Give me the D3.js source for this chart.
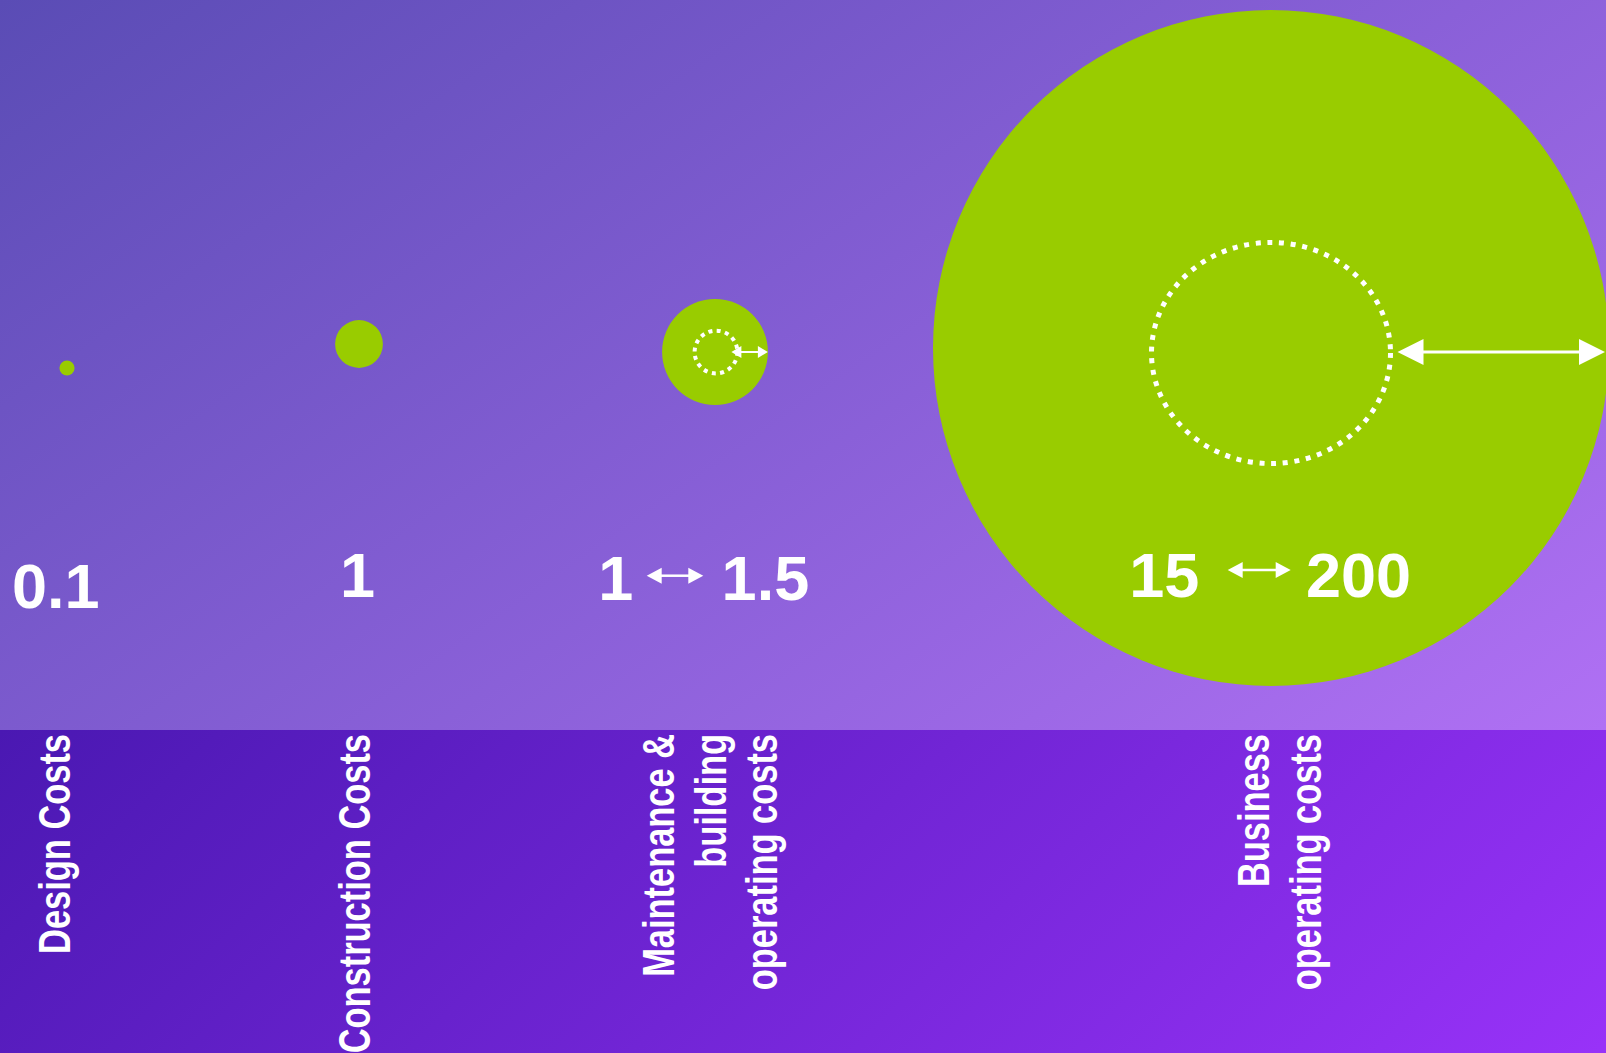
<!DOCTYPE html>
<html>
<head>
<meta charset="utf-8">
<script src="https://cdn.jsdelivr.net/npm/d3@7"></script>
<style>
html, body { margin: 0; padding: 0; overflow: hidden; background: #fff; }
svg { display: block; }
</style>
</head>
<body>
<svg width="1606" height="1053"></svg>
<script>
// data
var categories = ['design', 'construction', 'maintenance', 'business'];
var categoryLines = [
    ['Design Costs'],
    ['Construction Costs'],
    ['Maintenance &', 'building', 'operating costs'],
    ['Business', 'operating costs']
];
var lowValues = [null, null, 1, 15];
var highValues = [0.1, 1, 1.5, 200];
// bubble areas as drawn (same units as the values)
var bubbleSize = [0.1, 1, 4.9, 200];
var ringSize = [null, null, 0.8, 25];

var W = 1606, H = 1053, bandY = 730;
var green = '#99cc00';
var font = "'Liberation Sans', Arial, sans-serif";

var svg = d3.select('svg');
var defs = svg.append('defs');

var topGrad = defs.append('linearGradient').attr('id', 'topGrad')
    .attr('gradientUnits', 'userSpaceOnUse')
    .attr('x1', 0).attr('y1', 0).attr('x2', 870).attr('y2', 1243);
topGrad.append('stop').attr('offset', 0).attr('stop-color', '#5a4cb5');
topGrad.append('stop').attr('offset', 1).attr('stop-color', '#b070f4');

var botGrad = defs.append('linearGradient').attr('id', 'botGrad')
    .attr('gradientUnits', 'userSpaceOnUse')
    .attr('x1', 0).attr('y1', bandY).attr('x2', 925).attr('y2', bandY + 966);
botGrad.append('stop').attr('offset', 0).attr('stop-color', '#4a18b2');
botGrad.append('stop').attr('offset', 1).attr('stop-color', '#9832f8');

svg.append('rect').attr('width', W).attr('height', bandY).attr('fill', 'url(#topGrad)');
svg.append('rect').attr('y', bandY).attr('width', W).attr('height', H - bandY).attr('fill', 'url(#botGrad)');

// scales
var x = d3.scaleOrdinal().domain(categories).range([67, 359, 715, 1271]);
var y = d3.scaleOrdinal().domain(categories).range([368, 344, 352, 348]);
var r = d3.scaleSqrt().domain([0, 200]).range([0, 338]);
var labelX = d3.scaleOrdinal().domain(categories).range([70, 370, 674, 1269]);

var rows = categories.map(function(c, i) {
    return {key: c, lines: categoryLines[i], low: lowValues[i], high: highValues[i],
            size: bubbleSize[i], ring: ringSize[i]};
});

function doubleArrow(g, x1, x2, yy, head, half, w) {
    g.append('line')
        .attr('x1', x1 + head - 1).attr('x2', x2 - head + 1)
        .attr('y1', yy).attr('y2', yy)
        .attr('stroke', '#fff').attr('stroke-width', w);
    g.append('path')
        .attr('d', 'M' + x1 + ',' + yy + 'L' + (x1 + head) + ',' + (yy - half) + 'L' + (x1 + head) + ',' + (yy + half) + 'Z')
        .attr('fill', '#fff');
    g.append('path')
        .attr('d', 'M' + x2 + ',' + yy + 'L' + (x2 - head) + ',' + (yy - half) + 'L' + (x2 - head) + ',' + (yy + half) + 'Z')
        .attr('fill', '#fff');
}

// bubbles
svg.selectAll('circle.bubble').data(rows).enter().append('circle')
    .attr('class', 'bubble')
    .attr('cx', function(d) { return x(d.key); })
    .attr('cy', function(d) { return y(d.key); })
    .attr('r', function(d) { return r(d.size); })
    .attr('fill', green);

// dotted rings + arrows for the ranges
rows.forEach(function(d, i) {
    if (d.ring == null) return;
    var big = d.key === 'business';
    var cx = x(d.key) + (big ? 0 : 1);
    var cy = big ? 353 : 352;
    var rr = r(d.ring);
    svg.append('ellipse')
        .attr('cx', cx).attr('cy', cy)
        .attr('rx', rr).attr('ry', big ? rr * 0.925 : rr)
        .attr('fill', 'none')
        .attr('stroke', '#fff')
        .attr('stroke-width', big ? 5 : 4)
        .attr('stroke-dasharray', big ? '5 6.7' : '4 4.4');
    var g = svg.append('g');
    if (big) doubleArrow(g, cx + rr + 7, x(d.key) + r(d.size) - 4, cy - 1, 26, 13, 3);
    else doubleArrow(g, cx + rr - 6, x(d.key) + r(d.size), cy, 10, 6, 2);
});

// value labels
var vals = svg.append('g')
    .attr('fill', '#fff')
    .style('font-family', font)
    .style('font-weight', 'bold')
    .style('font-size', '63px');

vals.append('text').attr('x', 12).attr('y', 608).text(highValues[0]);
vals.append('text').attr('x', 340).attr('y', 597).text(highValues[1]);

// range labels: low <-> high
[[2, 598.3, 646.7, 703.3, 721.6, 600, 575.7], [3, 1129.3, 1227.7, 1290.7, 1306, 597, 570]].forEach(function(p) {
    var d = rows[p[0]];
    vals.append('text').attr('x', p[1]).attr('y', p[5]).text(d.low);
    doubleArrow(vals.append('g'), p[2], p[3], p[6], 15, 8, 2.5);
    vals.append('text').attr('x', p[4]).attr('y', p[5]).text(d.high);
});

// category labels, rotated, in the lower band
var cats = svg.selectAll('g.cat').data(rows).enter().append('g').attr('class', 'cat');
cats.each(function(d) {
    var g = d3.select(this);
    d.lines.forEach(function(line, j) {
        var bx = labelX(d.key) + j * 51.5;
        g.append('text')
            .attr('transform', 'translate(' + bx + ',734) rotate(-90) scale(0.765,1)')
            .attr('text-anchor', 'end')
            .attr('fill', '#fff')
            .style('font-family', font)
            .style('font-weight', 'bold')
            .style('font-size', '45px')
            .text(line);
    });
});
</script>
</body>
</html>
